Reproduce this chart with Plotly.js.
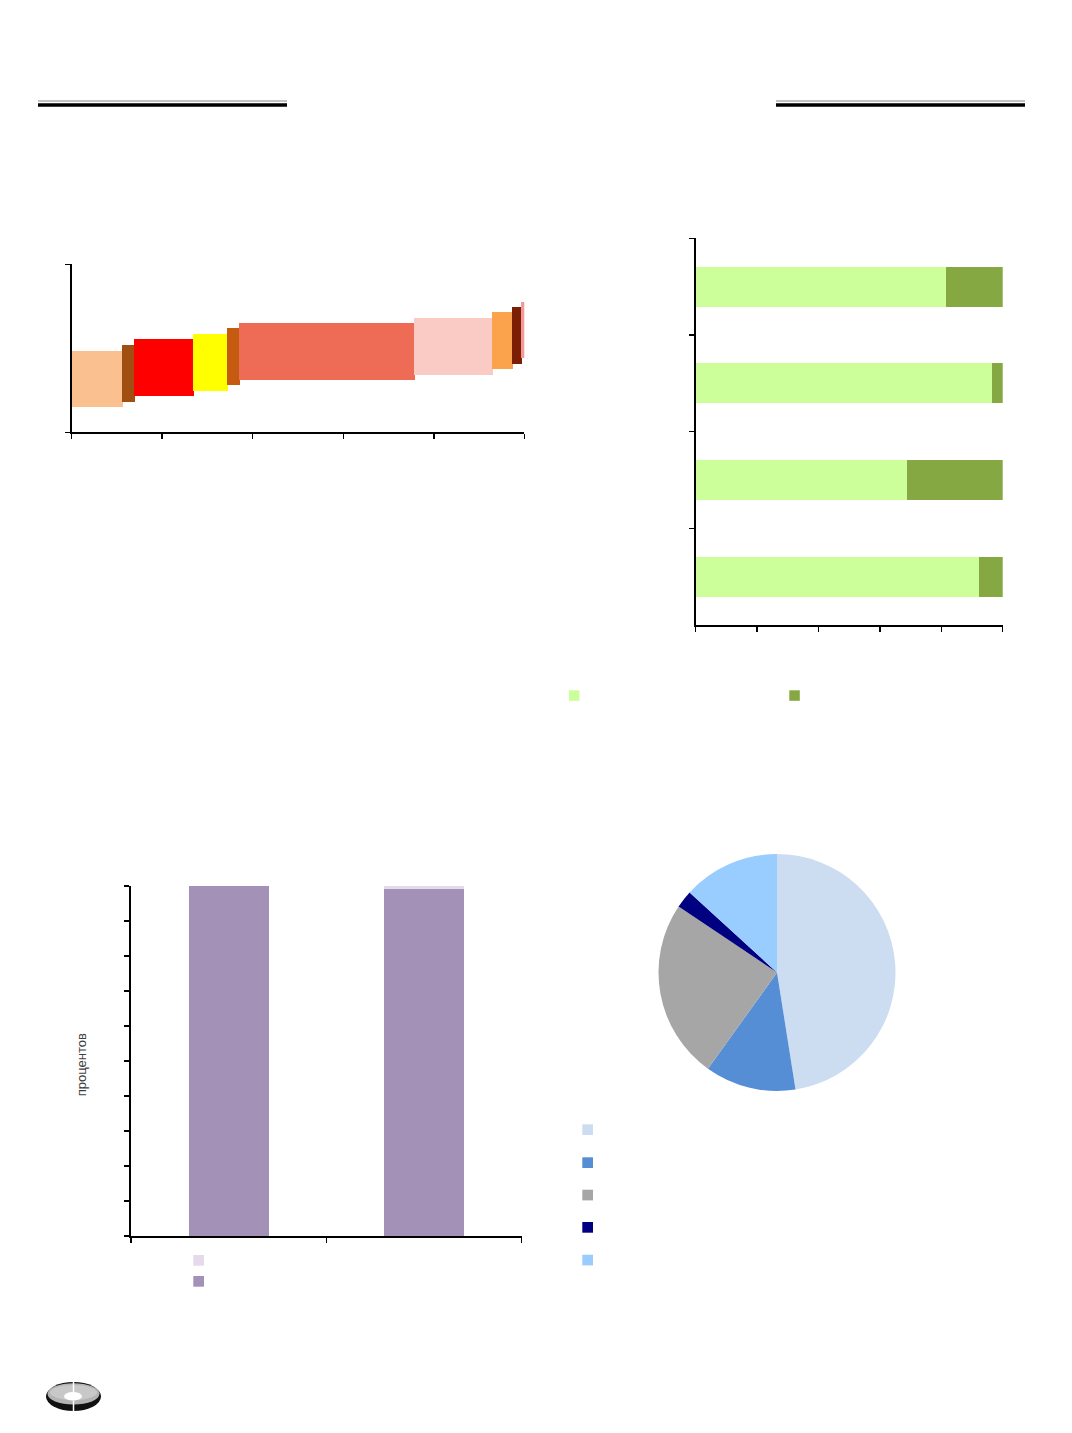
<!DOCTYPE html>
<html>
<head>
<meta charset="utf-8">
<script src="https://cdn.plot.ly/plotly-3.0.1.min.js"></script>
<style>
  html, body { margin: 0; padding: 0; background: #ffffff; }
  #chart { width: 1072px; height: 1433px; }
</style>
</head>
<body>
<div id="chart"></div>
<script>
// ---------------- DATA ----------------
// Chart 1: staircase blocks (width along x, lower and upper value along y)
const blockWidths = [11.3, 2.5, 13.0, 7.7, 2.5, 38.7, 17.3, 4.3, 2.1, 0.6];
const blockLow    = [4.6, 5.5, 6.5, 7.5, 8.5, 9.4, 10.4, 11.4, 12.3, 13.4];
const blockHigh   = [14.5, 15.5, 16.5, 17.5, 18.5, 19.5, 20.4, 21.4, 22.3, 23.1];

// Chart 2: 100% stacked horizontal bars
const rowCategories = ['1', '2', '3', '4'];
const rowShareA = [81.6, 96.4, 68.7, 92.4];
const rowShareB = [18.4, 3.6, 31.3, 7.6];

// Chart 3: stacked columns, percent
const colCategories = ['1', '2'];
const colPartTop    = [0, 0.9];
const colPartBottom = [100, 99.1];
const chart3Title = 'процентов';

// Chart 4: pie shares
const pieLabels = ['1', '2', '3', '4', '5'];
const pieValues = [47.5, 12.4, 24.5, 2.4, 13.2];

// ---------------- STYLES ----------------
const blockColors = ['#FAC090', '#A04F10', '#FF0000', '#FFFF00', '#C55A11',
                     '#EE6B55', '#F9CBC4', '#FAA24C', '#7B1E04', '#F4999B'];
const greenColors = ['#CCFF99', '#86A843'];
const purpleColors = ['#E5D9EC', '#A391B7'];
const pieColors = ['#CCDDF2', '#558ED5', '#A6A6A6', '#000080', '#99CCFF'];

const W = 1072, H = 1433;
const px = p => p / W;
const py = p => 1 - p / H;

// ---------------- TRACES ----------------
const starts = [];
let acc = 0;
blockWidths.forEach(w => { starts.push(acc); acc += w; });
const centers = blockWidths.map((w, i) => starts[i] + w / 2);
const heights = blockHigh.map((h, i) => h - blockLow[i]);

const traces = [];
traces.push({
  type: 'bar', xaxis: 'x', yaxis: 'y',
  x: centers, y: heights, base: blockLow, width: blockWidths,
  marker: { color: blockColors, line: { color: blockColors, width: 1 } },
  showlegend: false, hoverinfo: 'none'
});

traces.push({
  type: 'bar', orientation: 'h', xaxis: 'x2', yaxis: 'y2',
  y: rowCategories, x: rowShareA, width: 0.414,
  marker: { color: greenColors[0] }, showlegend: false, hoverinfo: 'none'
});
traces.push({
  type: 'bar', orientation: 'h', xaxis: 'x2', yaxis: 'y2',
  y: rowCategories, x: rowShareB, width: 0.414,
  marker: { color: greenColors[1] }, showlegend: false, hoverinfo: 'none'
});

traces.push({
  type: 'bar', xaxis: 'x3', yaxis: 'y3',
  x: colCategories, y: colPartBottom, width: 0.408,
  marker: { color: purpleColors[1] }, showlegend: false, hoverinfo: 'none'
});
traces.push({
  type: 'bar', xaxis: 'x3', yaxis: 'y3',
  x: colCategories, y: colPartTop, width: 0.408,
  marker: { color: purpleColors[0] }, showlegend: false, hoverinfo: 'none'
});

traces.push({
  type: 'pie', labels: pieLabels, values: pieValues,
  sort: false, direction: 'clockwise', rotation: 0,
  marker: { colors: pieColors, line: { width: 0 } },
  textinfo: 'none', hoverinfo: 'none', showlegend: false,
  domain: { x: [px(658.5), px(895.5)], y: [py(1091), py(854)] }
});

// ---------------- AXES ----------------
const axisBase = {
  showgrid: false, zeroline: false, showline: true, linecolor: '#000000', linewidth: 2,
  ticks: 'outside', ticklen: 5, tickwidth: 1.5, tickcolor: '#000000',
  showticklabels: false, fixedrange: true
};

const layout = {
  width: W, height: H,
  margin: { l: 0, r: 0, t: 0, b: 0 },
  paper_bgcolor: '#ffffff', plot_bgcolor: 'rgba(0,0,0,0)',
  barmode: 'stack',
  showlegend: false,
  font: { family: 'Liberation Sans, Arial, sans-serif', color: '#404040' },
  xaxis: Object.assign({}, axisBase, { domain: [px(71.7), px(524.3)], range: [0, 100], dtick: 20, tick0: 0, anchor: 'y' }),
  yaxis: Object.assign({}, axisBase, { domain: [py(432.3), py(264.3)], range: [0, 30], dtick: 30, tick0: 0, anchor: 'x' }),
  xaxis2: Object.assign({}, axisBase, { domain: [px(695.7), px(1002.7)], range: [0, 100], dtick: 20, tick0: 0, anchor: 'y2' }),
  yaxis2: Object.assign({}, axisBase, { domain: [py(625), py(238.3)], type: 'category', range: [3.5, -0.5], tickson: 'boundaries', anchor: 'x2' }),
  xaxis3: Object.assign({}, axisBase, { domain: [px(131), px(521.7)], type: 'category', range: [-0.5, 1.5], tickson: 'boundaries', anchor: 'y3' }),
  yaxis3: Object.assign({}, axisBase, { domain: [py(1236), py(886)], range: [0, 100], dtick: 10, tick0: 0, anchor: 'x3' }),
  annotations: [{
    xref: 'paper', yref: 'paper', x: px(81.2), y: py(1065),
    text: chart3Title, textangle: -90, showarrow: false,
    xanchor: 'center', yanchor: 'middle',
    font: { size: 13, color: '#404040', family: 'Liberation Sans, Arial, sans-serif' }
  }],
  shapes: []
};

// header rules
function rule(x0, x1, y, w, c) {
  layout.shapes.push({ type: 'line', xref: 'paper', yref: 'paper',
    x0: px(x0), x1: px(x1), y0: py(y), y1: py(y), line: { color: c, width: w } });
}
rule(38, 287, 101, 1.2, '#8a8a8a');
rule(38, 287, 105, 3.3, '#000000');
rule(776, 1025, 101, 1.2, '#8a8a8a');
rule(776, 1025, 105, 3.3, '#000000');

// legend keys
function key(x0, y0, size, color) {
  layout.shapes.push({ type: 'rect', xref: 'paper', yref: 'paper',
    x0: px(x0), x1: px(x0 + size), y0: py(y0 + size), y1: py(y0),
    fillcolor: color, line: { width: 0 } });
}
key(569, 690.3, 10.5, greenColors[0]);
key(789.3, 690.3, 10.5, greenColors[1]);
key(193.3, 1255, 10.7, purpleColors[0]);
key(193.3, 1276, 10.7, purpleColors[1]);
const pieKeyY = [1124.3, 1157.3, 1189.7, 1222, 1254.7];
pieKeyY.forEach((y, i) => key(582.3, y, 10.7, pieColors[i]));

// logo
function ell(x0, x1, y0, y1, fill) {
  layout.shapes.push({ type: 'circle', xref: 'paper', yref: 'paper',
    x0: px(x0), x1: px(x1), y0: py(y1), y1: py(y0),
    fillcolor: fill, line: { width: 0 } });
}
ell(46, 101, 1382, 1411, '#111111');
ell(47.5, 99.5, 1383.2, 1404.5, '#b4b4b4');
ell(50, 97, 1385, 1400, '#c8c8c8');
ell(64, 82, 1392, 1400.5, '#ffffff');
layout.shapes.push({ type: 'line', xref: 'paper', yref: 'paper',
  x0: px(73.5), x1: px(73.5), y0: py(1382), y1: py(1392), line: { color: '#ffffff', width: 1.5 } });
layout.shapes.push({ type: 'line', xref: 'paper', yref: 'paper',
  x0: px(73.5), x1: px(73.5), y0: py(1400.5), y1: py(1411), line: { color: '#ffffff', width: 1.5 } });

Plotly.newPlot('chart', traces, layout, { staticPlot: true, displayModeBar: false });
</script>
</body>
</html>
